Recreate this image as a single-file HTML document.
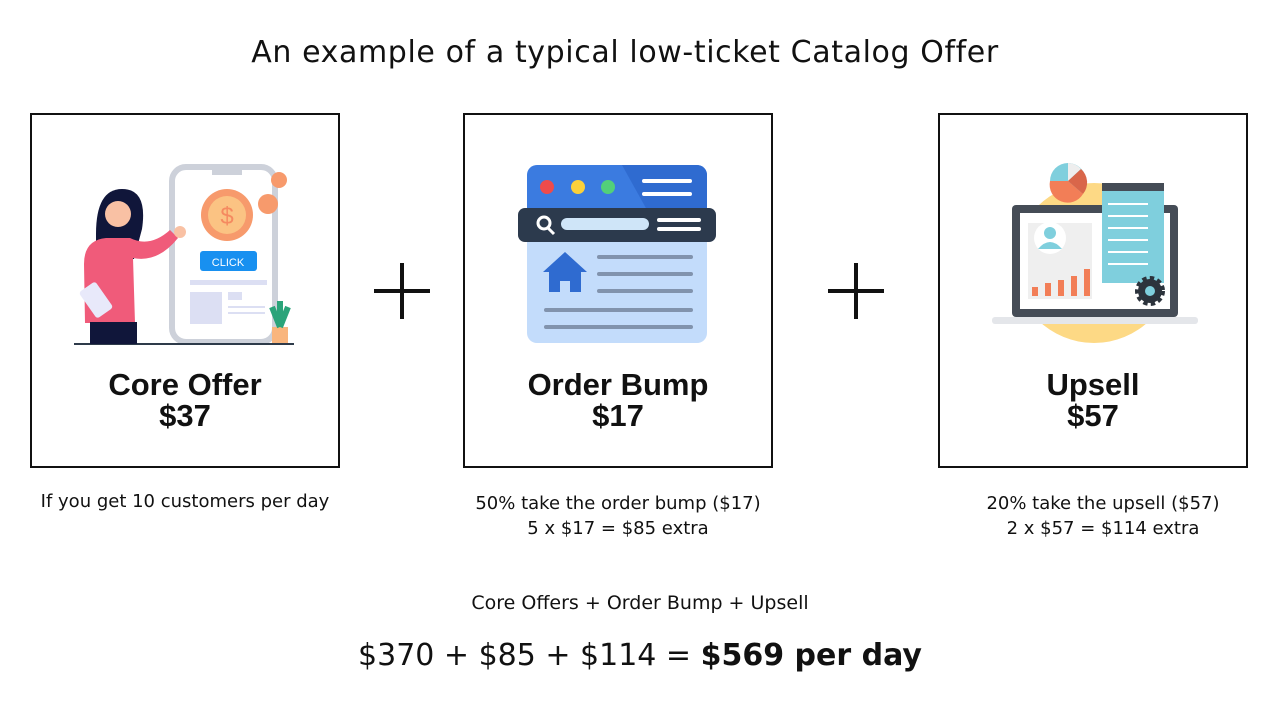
<!DOCTYPE html>
<html><head><meta charset="utf-8"><style>
body{margin:0;width:1280px;height:720px;background:#fff;position:relative;overflow:hidden;font-family:"DejaVu Sans","Liberation Sans",sans-serif;color:#111}
.t{position:absolute;white-space:nowrap;text-align:center}
.box{position:absolute;border:2px solid #111;box-sizing:border-box;top:113px;height:355px;width:310px}
.h{position:absolute;left:0;right:0;text-align:center;font-family:"Liberation Sans",sans-serif;font-weight:bold;font-size:31px;line-height:31px;top:254px}
svg{position:absolute}
</style></head><body>
<div class="t" style="left:0;width:1250px;top:35px;font-size:30px;letter-spacing:0.6px">An example of a typical low-ticket Catalog Offer</div>

<div class="box" style="left:30px">
<svg style="left:40px;top:48px" width="230" height="184" viewBox="0 0 230 182">
<rect x="100" y="3" width="103" height="175" rx="14" fill="#fff" stroke="#cdd1da" stroke-width="6"/>
<rect x="140" y="3" width="30" height="8" fill="#cdd1da"/>
<circle cx="155" cy="51" r="26" fill="#f79a6c"/><circle cx="155" cy="51" r="19" fill="#fbc383"/>
<text x="155" y="60" font-size="24" fill="#f58a60" text-anchor="middle" font-family="Liberation Sans">$</text>
<circle cx="207" cy="16" r="8" fill="#f79a6c"/><circle cx="196" cy="40" r="10" fill="#f79a6c"/>
<rect x="128" y="87" width="57" height="20" rx="3" fill="#1890f0"/>
<text x="156" y="102" font-size="11" fill="#fff" text-anchor="middle" font-family="Liberation Sans">CLICK</text>
<rect x="118" y="116" width="77" height="5" fill="#dcdff3"/>
<rect x="118" y="128" width="32" height="32" fill="#dcdff3"/>
<rect x="156" y="128" width="14" height="8" fill="#dcdff3"/>
<rect x="156" y="142" width="37" height="2" fill="#dcdff3"/><rect x="156" y="148" width="37" height="2" fill="#dcdff3"/>
<path d="M2 180 L222 180" stroke="#2e3b4a" stroke-width="2"/>
<rect x="200" y="163" width="16" height="16" fill="#f9b57d"/>
<path d="M208 163 l-8 -20 M208 163 l8 -20 M208 163 v-26" stroke="#2ba47a" stroke-width="6"/>
<path d="M24 70 q0 -45 26 -45 q26 0 20 40 l-8 30 h-38z" fill="#10163a"/>
<circle cx="46" cy="50" r="13" fill="#f9c1a4"/>
<path d="M12 100 q0 -24 22 -26 h24 q20 10 40 -8 l8 8 q-20 25 -45 20 l2 65 h-50z" fill="#f05b7a"/>
<rect x="18" y="158" width="47" height="22" fill="#10163a"/>
<rect x="14" y="120" width="20" height="32" rx="3" transform="rotate(-35 24 136)" fill="#e8e9fa"/>
<circle cx="108" cy="68" r="6" fill="#f9c1a4"/>
</svg>
<div class="h">Core Offer<br>$37</div>
</div>

<div class="box" style="left:463px">
<svg style="left:52px;top:48px" width="205" height="182" viewBox="0 0 205 182">
<rect x="10" y="2" width="180" height="178" rx="10" fill="#c3dcfb"/>
<path d="M20 2 h160 a10 10 0 0 1 10 10 v35 h-180 v-35 a10 10 0 0 1 10 -10z" fill="#3b7be0"/>
<path d="M105 2 h75 a10 10 0 0 1 10 10 v35 h-60z" fill="#2f6bd0"/>
<circle cx="30" cy="24" r="7" fill="#ee4b4b"/><circle cx="61" cy="24" r="7" fill="#fbd13b"/><circle cx="91" cy="24" r="7" fill="#52d07a"/>
<rect x="125" y="16" width="50" height="4" rx="2" fill="#fff"/><rect x="125" y="29" width="50" height="4" rx="2" fill="#fff"/>
<rect x="1" y="45" width="198" height="34" rx="7" fill="#2c3a4d"/>
<circle cx="27" cy="60" r="6" fill="none" stroke="#fff" stroke-width="3"/><path d="M31 65 l6 6" stroke="#fff" stroke-width="3"/>
<rect x="44" y="55" width="88" height="12" rx="6" fill="#cfe5f8"/>
<rect x="140" y="55" width="44" height="4" rx="2" fill="#fff"/><rect x="140" y="64" width="44" height="4" rx="2" fill="#fff"/>
<path d="M48 89 l-22 20 h6 v20 h11 v-11 h10 v11 h11 v-20 h6z" fill="#2f6bd0"/>
<g fill="#8193ad"><rect x="80" y="92" width="96" height="4" rx="2"/><rect x="80" y="109" width="96" height="4" rx="2"/><rect x="80" y="126" width="96" height="4" rx="2"/><rect x="27" y="145" width="149" height="4" rx="2"/><rect x="27" y="162" width="149" height="4" rx="2"/></g>
</svg>
<div class="h">Order Bump<br>$17</div>
</div>

<div class="box" style="left:938px">
<svg style="left:52px;top:48px" width="206" height="185" viewBox="0 0 206 185">
<circle cx="102" cy="100" r="80" fill="#fdd985"/>
<rect x="20" y="42" width="166" height="112" rx="4" fill="#454c56"/>
<rect x="28" y="50" width="150" height="96" fill="#fff"/>
<rect x="0" y="154" width="206" height="7" rx="3" fill="#e4e6ea"/>
<rect x="36" y="60" width="64" height="76" fill="#efefef"/>
<circle cx="58" cy="75" r="16" fill="#fff"/><circle cx="58" cy="70" r="6" fill="#7fcfdd"/><path d="M46 86 q12 -14 24 0z" fill="#7fcfdd"/>
<g fill="#f27e57"><rect x="40" y="124" width="6" height="9"/><rect x="53" y="120" width="6" height="13"/><rect x="66" y="117" width="6" height="16"/><rect x="79" y="113" width="6" height="20"/><rect x="92" y="106" width="6" height="27"/></g>
<circle cx="76" cy="18" r="18" fill="#7fcfdd"/><path d="M76 18 l0 -18 a18 18 0 0 1 13 6z" fill="#eee"/><path d="M76 18 l13 -12 a18 18 0 0 1 2 25z" fill="#d9664a"/><path d="M76 18 l15 13 a18 18 0 0 1 -33 -13z" fill="#f27e57"/>
<rect x="110" y="20" width="62" height="100" fill="#7fcfdd"/><rect x="110" y="20" width="62" height="8" fill="#454c56"/>
<g fill="#fff"><rect x="116" y="40" width="40" height="2"/><rect x="116" y="52" width="40" height="2"/><rect x="116" y="64" width="40" height="2"/><rect x="116" y="76" width="40" height="2"/><rect x="116" y="88" width="40" height="2"/><rect x="116" y="100" width="40" height="2"/></g>
<circle cx="158" cy="128" r="12" fill="#2c333c" stroke="#2c333c" stroke-width="6" stroke-dasharray="4 3"/><circle cx="158" cy="128" r="5" fill="#7fcfdd"/>
</svg>
<div class="h">Upsell<br>$57</div>
</div>

<svg style="left:372px;top:262px" width="60" height="58"><path d="M2 29 H58 M30 1 V57" stroke="#111" stroke-width="4"/></svg>
<svg style="left:826px;top:262px" width="60" height="58"><path d="M2 29 H58 M30 1 V57" stroke="#111" stroke-width="4"/></svg>

<div class="t" style="left:0;width:370px;top:491px;font-size:18px">If you get 10 customers per day</div>
<div class="t" style="left:433px;width:370px;top:491px;font-size:18px;line-height:25px">50% take the order bump ($17)<br>5 x $17 = $85 extra</div>
<div class="t" style="left:918px;width:370px;top:491px;font-size:18px;line-height:25px">20% take the upsell ($57)<br>2 x $57 = $114 extra</div>
<div class="t" style="left:0;width:1280px;top:592px;font-size:19px">Core Offers + Order Bump + Upsell</div>
<div class="t" style="left:0;width:1280px;top:638px;font-size:30px">$370 + $85 + $114 = <b>$569 per day</b></div>
</body></html>
